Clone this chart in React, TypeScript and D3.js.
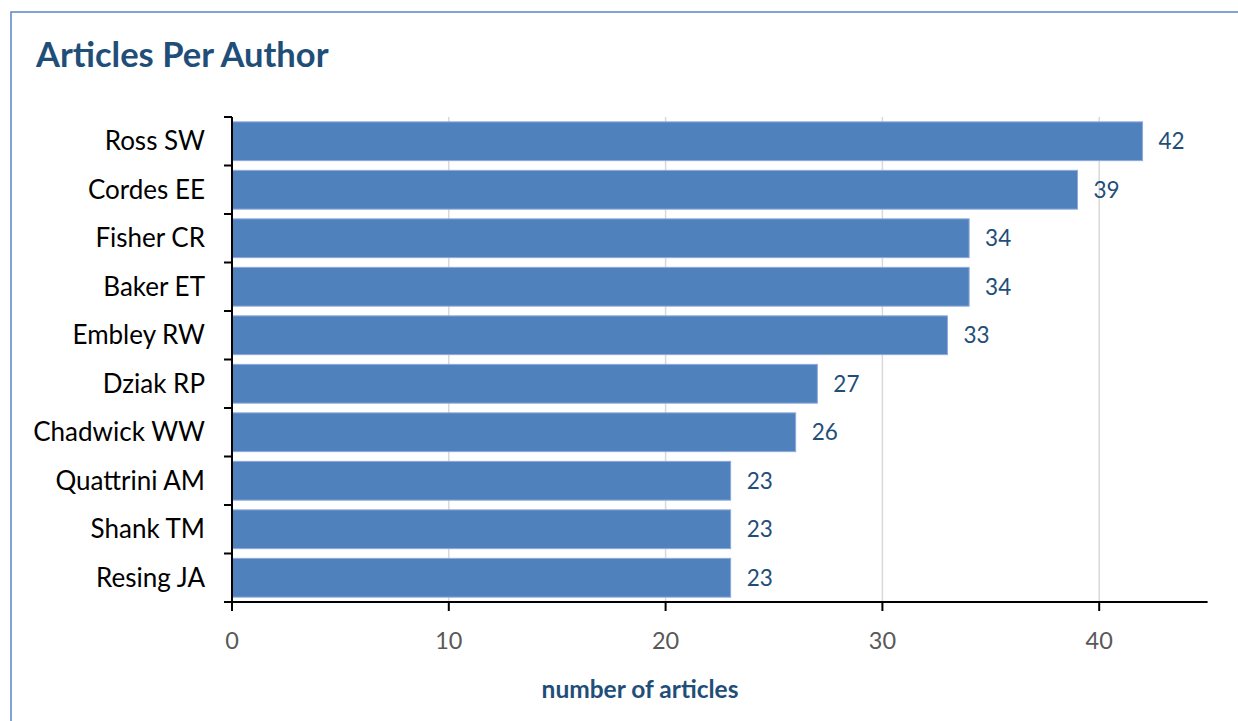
import React from "react";
import * as d3 from "d3";

const authors = ["Ross SW", "Cordes EE", "Fisher CR", "Baker ET", "Embley RW", "Dziak RP", "Chadwick WW", "Quattrini AM", "Shank TM", "Resing JA"];
const articles = [42, 39, 34, 34, 33, 27, 26, 23, 23, 23];
const xTicks = [0, 10, 20, 30, 40];

const W = 1238, H = 721;
const FONT = "Lato, 'Open Sans', sans-serif";

export default function App() {
  const left = 232, right = 1207.6, top = 117, bottom = 602;
  const x = d3.scaleLinear().domain([0, 45]).range([left, right]);
  const y = d3.scaleBand<string>().domain(authors).range([top, bottom]).paddingInner(0.2).paddingOuter(0.1);
  const step = y.step();
  const boundaries = d3.range(authors.length + 1).map(i => top + i * step);
  return (
    <svg width={W} height={H} style={{ position: "absolute", left: 0, top: 0, background: "#fff" }}>
      <rect x={11} y={12} width={W} height={H} fill="#fff" stroke="#5B86C5" strokeWidth={1.5} />
      <text x={36} y={67} fontFamily={FONT} fontWeight={700} fontSize={34.5} fill="#1F4E79">Articles Per Author</text>
      {xTicks.filter(t => t > 0).map(t => (
        <line key={"g" + t} x1={x(t)} x2={x(t)} y1={top} y2={bottom} stroke="#D9D9D9" strokeWidth={1.5} />
      ))}
      {authors.map((a, i) => (
        <g key={a}>
          <rect x={x(0)} y={y(a)} width={x(articles[i]) - x(0)} height={y.bandwidth()} fill="#4F81BD" stroke="#8EAADB" strokeWidth={1} />
          <text x={x(articles[i]) + 16} y={y(a)! + y.bandwidth() / 2} dy="0.35em" fontFamily={FONT} fontSize={22.5} fill="#1F4E79">{articles[i]}</text>
          <text x={205} y={y(a)! + y.bandwidth() / 2} dy="0.35em" textAnchor="end" fontFamily={FONT} fontSize={26} fill="#000">{a}</text>
        </g>
      ))}
      <line x1={left} x2={left} y1={top} y2={bottom} stroke="#000" strokeWidth={2} />
      {boundaries.map((b, i) => (
        <line key={"t" + i} x1={left - 8} x2={left} y1={b} y2={b} stroke="#000" strokeWidth={2} />
      ))}
      <line x1={left - 8} x2={right} y1={bottom} y2={bottom} stroke="#000" strokeWidth={2} />
      {xTicks.map(t => (
        <g key={"x" + t}>
          <line x1={x(t)} x2={x(t)} y1={bottom} y2={bottom + 9} stroke="#000" strokeWidth={2} />
          <text x={x(t)} y={649} textAnchor="middle" fontFamily={FONT} fontSize={23.5} fill="#595959">{t}</text>
        </g>
      ))}
      <text x={640} y={698} textAnchor="middle" fontFamily={FONT} fontWeight={700} fontSize={24.5} fill="#1F4E79">number of articles</text>
    </svg>
  );
}
